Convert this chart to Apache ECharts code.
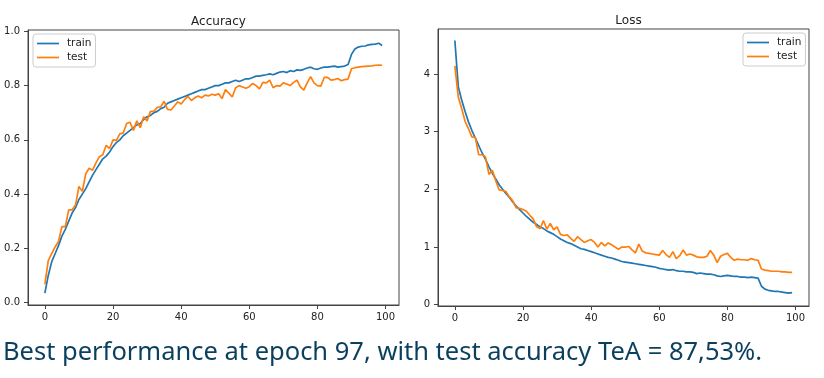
<!DOCTYPE html>
<html>
<head>
<meta charset="utf-8">
<script src="https://cdn.jsdelivr.net/npm/echarts@6/dist/echarts.min.js"></script>
<style>
html,body{margin:0;padding:0;background:#fff;}
#c{width:824px;height:378px;}
</style>
</head>
<body>
<div id="c"></div>
<script>
const epochs = Array.from({length:100}, (_, i) => i);
const xTicks = [0, 20, 40, 60, 80, 100];
const accTicks = [0, 0.2, 0.4, 0.6, 0.8, 1.0];
const lossTicks = [0, 1, 2, 3, 4];
const titles = ['Accuracy', 'Loss'];
const caption = 'Best performance at epoch 97, with test accuracy TeA = 87,53%.';

const trainAcc = [0.035,0.10,0.15,0.18,0.21,0.245,0.27,0.30,0.33,0.35,
0.38,0.40,0.42,0.445,0.47,0.49,0.51,0.53,0.54,0.555,
0.575,0.59,0.60,0.615,0.625,0.635,0.645,0.655,0.66,0.675,
0.685,0.69,0.70,0.705,0.715,0.72,0.735,0.74,0.745,0.75,
0.755,0.76,0.765,0.77,0.775,0.78,0.785,0.785,0.79,0.795,
0.80,0.80,0.805,0.81,0.81,0.815,0.82,0.815,0.82,0.825,
0.825,0.83,0.835,0.835,0.838,0.84,0.843,0.84,0.845,0.85,
0.852,0.848,0.855,0.852,0.858,0.856,0.86,0.865,0.868,0.862,
0.86,0.865,0.868,0.868,0.87,0.872,0.868,0.87,0.872,0.878,
0.915,0.935,0.942,0.945,0.946,0.95,0.952,0.953,0.956,0.948];

const testAcc = [0.067,0.155,0.18,0.205,0.225,0.28,0.28,0.342,0.342,0.36,
0.428,0.41,0.475,0.495,0.488,0.515,0.538,0.545,0.58,0.568,
0.60,0.598,0.622,0.625,0.66,0.665,0.635,0.67,0.645,0.685,
0.67,0.705,0.705,0.72,0.722,0.742,0.712,0.71,0.725,0.74,
0.732,0.748,0.76,0.745,0.755,0.762,0.755,0.765,0.762,0.768,
0.765,0.77,0.752,0.785,0.772,0.758,0.792,0.80,0.795,0.79,
0.796,0.808,0.80,0.788,0.812,0.81,0.82,0.792,0.80,0.798,
0.81,0.806,0.80,0.812,0.82,0.795,0.783,0.81,0.833,0.81,
0.80,0.798,0.83,0.83,0.82,0.822,0.826,0.818,0.822,0.824,
0.862,0.866,0.868,0.87,0.871,0.872,0.873,0.875,0.876,0.875];

const trainLoss = [4.58,3.78,3.55,3.35,3.17,3.02,2.89,2.76,2.63,2.52,
2.39,2.28,2.18,2.08,2.00,1.93,1.86,1.78,1.71,1.65,
1.59,1.53,1.48,1.43,1.39,1.35,1.32,1.28,1.25,1.22,
1.18,1.14,1.11,1.08,1.06,1.03,1.00,0.97,0.96,0.94,
0.92,0.90,0.88,0.86,0.84,0.82,0.81,0.79,0.77,0.75,
0.74,0.73,0.72,0.71,0.70,0.69,0.68,0.67,0.66,0.65,
0.63,0.62,0.61,0.60,0.61,0.59,0.58,0.58,0.57,0.57,
0.56,0.54,0.55,0.54,0.53,0.53,0.52,0.50,0.49,0.50,
0.51,0.50,0.49,0.49,0.48,0.48,0.47,0.48,0.47,0.46,
0.32,0.27,0.25,0.24,0.23,0.23,0.22,0.21,0.20,0.21];

const testLoss = [4.14,3.60,3.40,3.18,3.05,2.91,2.90,2.60,2.60,2.56,
2.26,2.33,2.15,1.99,1.98,1.96,1.87,1.80,1.68,1.67,
1.65,1.62,1.55,1.49,1.35,1.32,1.46,1.31,1.41,1.30,
1.35,1.22,1.20,1.21,1.15,1.10,1.18,1.13,1.08,1.11,
1.13,1.08,1.00,1.08,1.02,1.07,1.04,1.00,0.96,1.00,
1.00,1.01,0.95,0.90,1.05,0.93,0.90,0.89,0.88,0.87,
0.86,0.94,0.87,0.82,0.92,0.80,0.85,0.95,0.86,0.88,
0.86,0.83,0.82,0.82,0.84,0.94,0.86,0.73,0.84,0.87,
0.89,0.82,0.77,0.79,0.78,0.78,0.77,0.80,0.78,0.77,
0.62,0.60,0.59,0.58,0.58,0.58,0.57,0.57,0.56,0.56];

const BLUE = '#1f77b4', ORANGE = '#ff7f0e';
const FONT = 'DejaVu Sans';
const pairs = arr => epochs.map((e, i) => [e, arr[i]]);

function xAxisCfg(gi) {
  return {
    type: 'value', gridIndex: gi, min: -4.95, max: 103.95,
    splitLine: {show: false},
    axisLine: {show: true, onZero: false, lineStyle: {color: '#444', width: 1}},
    axisTick: {show: true, customValues: xTicks, length: 4, lineStyle: {color: '#444'}},
    axisLabel: {customValues: xTicks, margin: 7, fontSize: 10, color: '#222', fontFamily: FONT}
  };
}
function yAxisCfg(gi, min, max, ticks, fmt) {
  return {
    type: 'value', gridIndex: gi, min: min, max: max,
    splitLine: {show: false},
    axisLine: {show: true, onZero: false, lineStyle: {color: '#444', width: 1}},
    axisTick: {show: true, customValues: ticks, length: 4, lineStyle: {color: '#444'}},
    axisLabel: {customValues: ticks, margin: 8, fontSize: 10, color: '#222', fontFamily: FONT, formatter: fmt}
  };
}
function legendCfg(left, top) {
  return {
    data: ['train', 'test'], orient: 'vertical', left: left, top: top,
    icon: 'rect', itemWidth: 22, itemHeight: 1.7, itemGap: 3,
    backgroundColor: '#fff', borderColor: '#ccc', borderWidth: 1, borderRadius: 3,
    padding: [4, 4, 4, 4], selectedMode: false,
    textStyle: {fontSize: 10.5, color: '#222', fontFamily: FONT, padding: [0, 0, 0, 3]}
  };
}
function lineSeries(name, data, color, xi) {
  return {
    name: name, type: 'line', xAxisIndex: xi, yAxisIndex: xi,
    data: pairs(data), showSymbol: false, symbol: 'none', animation: false,
    lineStyle: {color: color, width: 1.7}, itemStyle: {color: color}
  };
}

const chart = echarts.init(document.getElementById('c'), null, {renderer: 'canvas'});
chart.setOption({
  animation: false,
  backgroundColor: '#fff',
  title: [
    {text: titles[0], left: 213.5, top: 11, textAlign: 'center',
     textStyle: {fontSize: 12, fontWeight: 'normal', color: '#222', fontFamily: FONT}},
    {text: titles[1], left: 623.5, top: 10, textAlign: 'center',
     textStyle: {fontSize: 12, fontWeight: 'normal', color: '#222', fontFamily: FONT}}
  ],
  grid: [
    {left: 28, right: 425, top: 30, bottom: 73, show: true, borderColor: '#444', borderWidth: 1, containLabel: false},
    {left: 438, right: 15, top: 29, bottom: 72, show: true, borderColor: '#444', borderWidth: 1, containLabel: false}
  ],
  xAxis: [xAxisCfg(0), xAxisCfg(1)],
  yAxis: [
    yAxisCfg(0, -0.009, 1.005, accTicks, v => v.toFixed(1)),
    yAxisCfg(1, -0.022, 4.78, lossTicks, v => String(v))
  ],
  legend: [legendCfg(33, 34), legendCfg(743, 33)],
  series: [
    lineSeries('train', trainAcc, BLUE, 0),
    lineSeries('test', testAcc, ORANGE, 0),
    lineSeries('train', trainLoss, BLUE, 1),
    lineSeries('test', testLoss, ORANGE, 1)
  ],
  graphic: [{
    type: 'text', left: 3, top: 340,
    style: {text: caption, font: '25.5px "Noto Sans"', fill: '#0b3f5e'}
  }]
});
</script>
</body>
</html>
